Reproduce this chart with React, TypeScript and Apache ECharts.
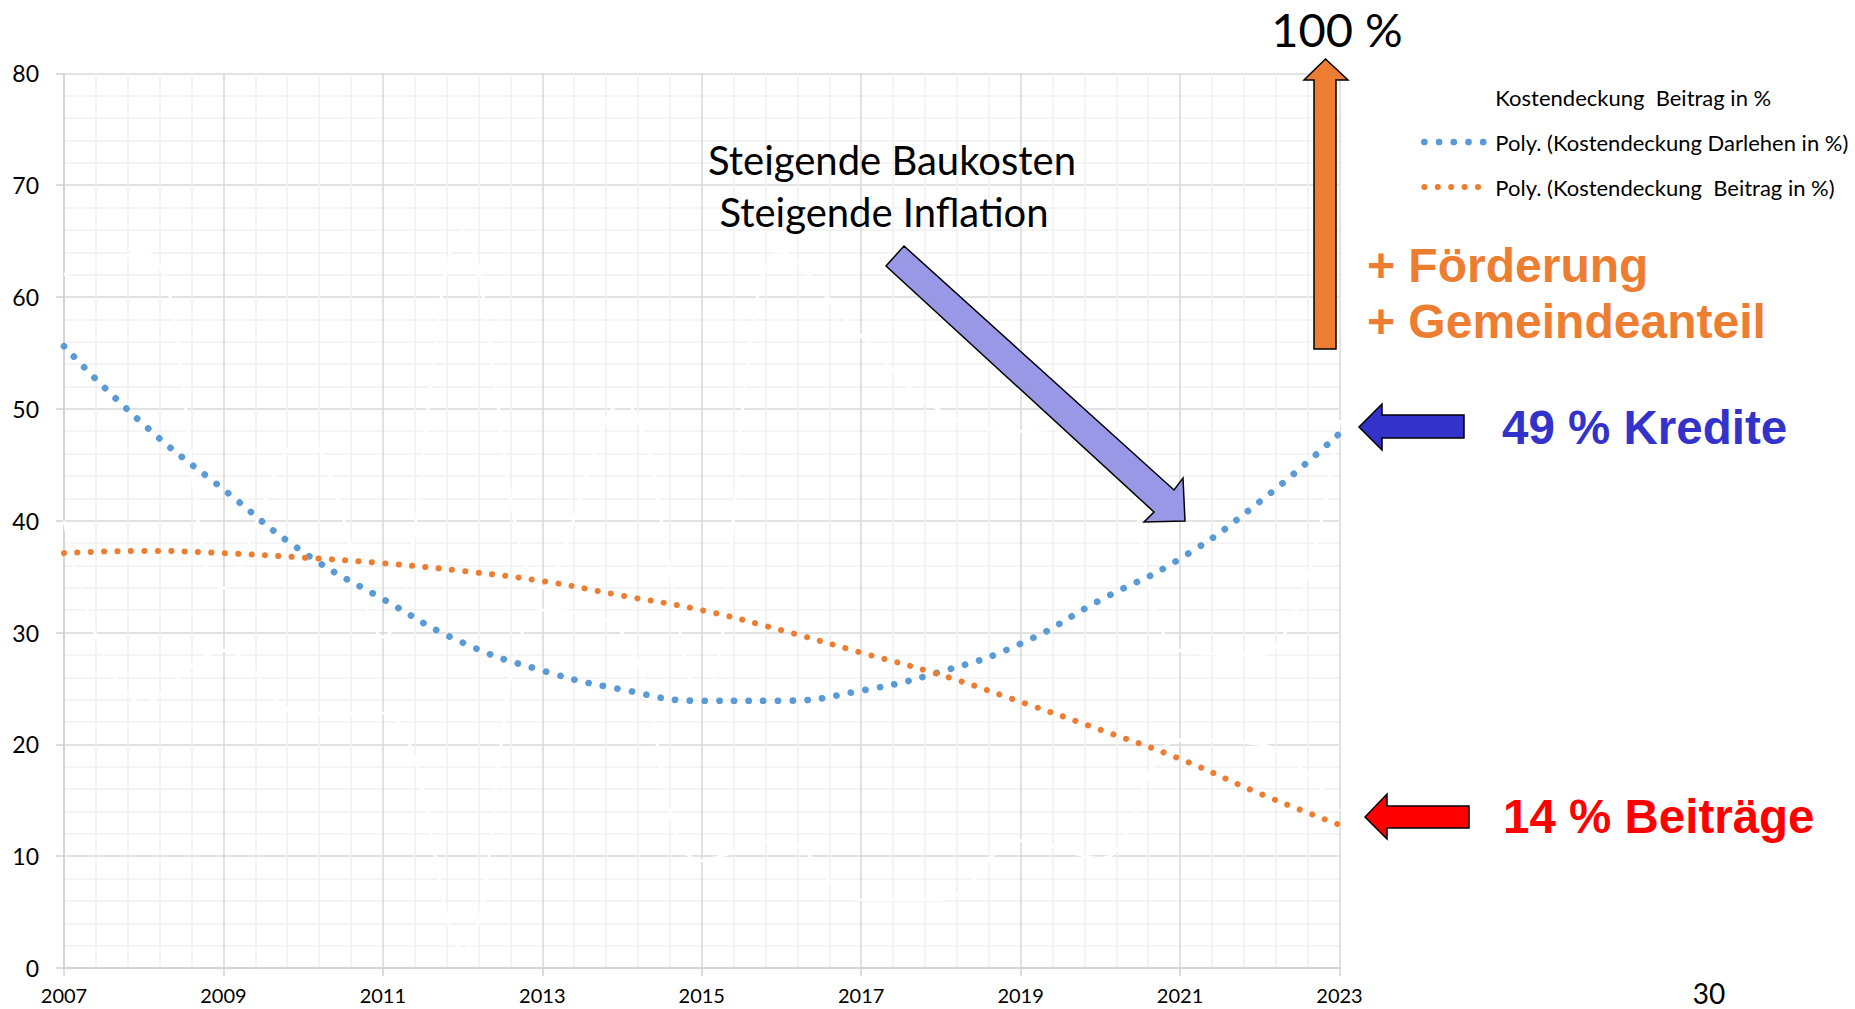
import React, { useEffect, useRef } from "react";
import * as echarts from "echarts";

// ---------- data ----------
const YEARS = [2007, 2008, 2009, 2010, 2011, 2012, 2013, 2014, 2015, 2016, 2017, 2018, 2019, 2020, 2021, 2022, 2023];
const BASE_YEAR = 2007;

// hidden (white) raw series
const DARLEHEN = [62, 64, 34, 47.6, 29.6, 65.9, 34, 50.7, 24, 64.1, 56.5, 49.8, 48, 49, 28.4, 28, 49];
const BEITRAG = [40, 23.7, 28.4, 22.7, 22.8, 1.6, 32, 30, 9.6, 11.4, 6.1, 6.1, 11.4, 9.8, 20.4, 20, 14];

// polynomial trend lines (dotted)
const POLY_DARLEHEN = [55.6, 48.6, 42.8, 37.2, 33.0, 29.1, 26.6, 24.9, 23.9, 23.9, 24.8, 26.5, 29.0, 32.9, 36.6, 41.7, 47.8];
const POLY_BEITRAG = [37.1, 37.3, 37.1, 36.7, 36.2, 35.5, 34.6, 33.3, 32.0, 30.2, 28.2, 26.2, 23.8, 21.3, 18.7, 15.6, 12.8];

const SERIES_NAMES = [
  "Kostendeckung  Beitrag in %",
  "Kostendeckung Darlehen in %",
  "Poly. (Kostendeckung Darlehen in %)",
  "Poly. (Kostendeckung  Beitrag in %)",
];

const Y_MIN = 0;
const Y_MAX = 80;
const Y_STEP = 10;
const X_STEP = 2;

const BLUE = "#5B9BD5";
const ORANGE = "#ED7D31";
const BLUE_DOT = { width: 6.7, type: [0.1, 14.6], cap: "round" };
const ORANGE_DOT = { width: 6, type: [0.1, 13.3], cap: "round" };

const pairs = (vals: number[]) => YEARS.map((y, i) => [y - BASE_YEAR, vals[i]]);

const CAL = "Lato, 'Open Sans', sans-serif";
const ARIAL = "'Liberation Sans', Arial, sans-serif";

export default function App() {
  const ref = useRef<HTMLDivElement>(null);

  useEffect(() => {
    const chart = echarts.init(ref.current!, null, { renderer: "svg" });
    const option: any = {
      animation: false,
      backgroundColor: "#ffffff",
      grid: { left: 64, right: 515.5, top: 73.4, bottom: 41, containLabel: false },
      legend: {
        orient: "vertical",
        left: 1421,
        top: 85,
        padding: 0,
        itemWidth: 66,
        itemHeight: 14,
        itemGap: 21,
        selectedMode: false,
        textStyle: { fontFamily: CAL, fontSize: 22, color: "#000", lineHeight: 24 },
        data: [
          {
            name: SERIES_NAMES[0],
            itemStyle: { opacity: 0 },
            lineStyle: { color: "#ffffff", width: 3 },
          },
          {
            name: SERIES_NAMES[2],
            itemStyle: { opacity: 0 },
            lineStyle: { color: BLUE, ...BLUE_DOT },
          },
          {
            name: SERIES_NAMES[3],
            itemStyle: { opacity: 0 },
            lineStyle: { color: ORANGE, ...ORANGE_DOT },
          },
        ],
      },
      xAxis: {
        type: "value",
        min: 0,
        max: YEARS[YEARS.length - 1] - BASE_YEAR,
        interval: X_STEP,
        axisLine: { show: true, onZero: false, lineStyle: { color: "#d0d0d0", width: 1.5 } },
        axisTick: { show: true, length: 8, lineStyle: { color: "#d0d0d0", width: 1.5 } },
        axisLabel: {
          formatter: (v: number) => String(v + BASE_YEAR),
          fontFamily: CAL,
          fontSize: 20,
          color: "#000",
          margin: 17,
        },
        splitLine: { show: true, lineStyle: { color: "#d9d9d9", width: 1.5 } },
        minorTick: { show: false, splitNumber: 5 },
        minorSplitLine: { show: true, lineStyle: { color: "#f0f0f0", width: 1.5 } },
      },
      yAxis: {
        type: "value",
        min: Y_MIN,
        max: Y_MAX,
        interval: Y_STEP,
        axisLine: { show: true, onZero: false, lineStyle: { color: "#d0d0d0", width: 1.5 } },
        axisTick: { show: true, length: 8, lineStyle: { color: "#d0d0d0", width: 1.5 } },
        axisLabel: { fontFamily: CAL, fontSize: 23, color: "#000", margin: 25 },
        splitLine: { show: true, lineStyle: { color: "#d9d9d9", width: 1.5 } },
        minorTick: { show: false, splitNumber: 5 },
        minorSplitLine: { show: true, lineStyle: { color: "#f0f0f0", width: 1.5 } },
      },
      series: [
        {
          name: SERIES_NAMES[0],
          type: "line",
          data: pairs(BEITRAG),
          smooth: 0.4,
          symbol: "none",
          silent: true,
          lineStyle: { color: "#ffffff", width: 3 },
          itemStyle: { color: "#ffffff" },
          z: 2,
        },
        {
          name: SERIES_NAMES[1],
          type: "line",
          data: pairs(DARLEHEN),
          smooth: 0.4,
          symbol: "none",
          silent: true,
          lineStyle: { color: "#ffffff", width: 3 },
          itemStyle: { color: "#ffffff" },
          z: 2,
        },
        {
          name: SERIES_NAMES[2],
          type: "line",
          data: pairs(POLY_DARLEHEN),
          smooth: true,
          symbol: "none",
          silent: true,
          lineStyle: { color: BLUE, ...BLUE_DOT },
          itemStyle: { color: BLUE },
          z: 3,
        },
        {
          name: SERIES_NAMES[3],
          type: "line",
          data: pairs(POLY_BEITRAG),
          smooth: true,
          symbol: "none",
          silent: true,
          lineStyle: { color: ORANGE, ...ORANGE_DOT },
          itemStyle: { color: ORANGE },
          z: 3,
        },
      ],
      graphic: [
        {
          type: "text",
          z: 100,
          x: 1337,
          y: 29,
          style: { text: "100 %", font: `47px ${CAL}`, fill: "#000", align: "center", verticalAlign: "middle" },
        },
        {
          type: "polygon",
          z: 100,
          shape: {
            points: [
              [1314, 349], [1314, 80], [1304, 80], [1325.5, 59], [1348, 80], [1336, 80], [1336, 349],
            ],
          },
          style: { fill: ORANGE, stroke: "#000", lineWidth: 1.5 },
        },
        {
          type: "polygon",
          z: 100,
          shape: {
            points: [
              [904, 246], [1174, 490], [1183, 478], [1185, 521], [1144, 522], [1154, 512], [886, 266],
            ],
          },
          style: { fill: "#9898e6", stroke: "#000", lineWidth: 1.5 },
        },
        {
          type: "polygon",
          z: 100,
          shape: {
            points: [
              [1359, 427], [1382, 404], [1382, 415], [1464, 415], [1464, 438], [1382, 438], [1382, 450],
            ],
          },
          style: { fill: "#3333CC", stroke: "#000", lineWidth: 1.5 },
        },
        {
          type: "polygon",
          z: 100,
          shape: {
            points: [
              [1365, 817], [1387, 794], [1387, 806], [1469, 806], [1469, 828], [1387, 828], [1387, 839],
            ],
          },
          style: { fill: "#FF0000", stroke: "#000", lineWidth: 1.5 },
        },
        {
          type: "text",
          z: 100,
          x: 892,
          y: 160,
          style: { text: "Steigende Baukosten", font: `40px ${CAL}`, fill: "#000", align: "center", verticalAlign: "middle" },
        },
        {
          type: "text",
          z: 100,
          x: 884,
          y: 211.5,
          style: { text: "Steigende Inflation", font: `40px ${CAL}`, fill: "#000", align: "center", verticalAlign: "middle" },
        },
        {
          type: "text",
          z: 100,
          x: 1367,
          y: 265.5,
          style: { text: "+ Förderung", font: `bold 48px ${ARIAL}`, fill: ORANGE, align: "left", verticalAlign: "middle" },
        },
        {
          type: "text",
          z: 100,
          x: 1367,
          y: 321.5,
          style: { text: "+ Gemeindeanteil", font: `bold 48px ${ARIAL}`, fill: ORANGE, align: "left", verticalAlign: "middle" },
        },
        {
          type: "text",
          z: 100,
          x: 1502,
          y: 427,
          style: { text: "49 % Kredite", font: `bold 47.5px ${ARIAL}`, fill: "#3333CC", align: "left", verticalAlign: "middle" },
        },
        {
          type: "text",
          z: 100,
          x: 1503,
          y: 816,
          style: { text: "14 % Beiträge", font: `bold 47.5px ${ARIAL}`, fill: "#FF0000", align: "left", verticalAlign: "middle" },
        },
        {
          type: "text",
          z: 100,
          x: 1709,
          y: 993,
          style: { text: "30", font: `28px ${CAL}`, fill: "#000", align: "center", verticalAlign: "middle" },
        },
      ],
    };
    chart.setOption(option);
    return () => chart.dispose();
  }, []);

  return (
    <div
      ref={ref}
      style={{ position: "fixed", left: 0, top: 0, width: 1855, height: 1009, background: "#fff" }}
    />
  );
}
